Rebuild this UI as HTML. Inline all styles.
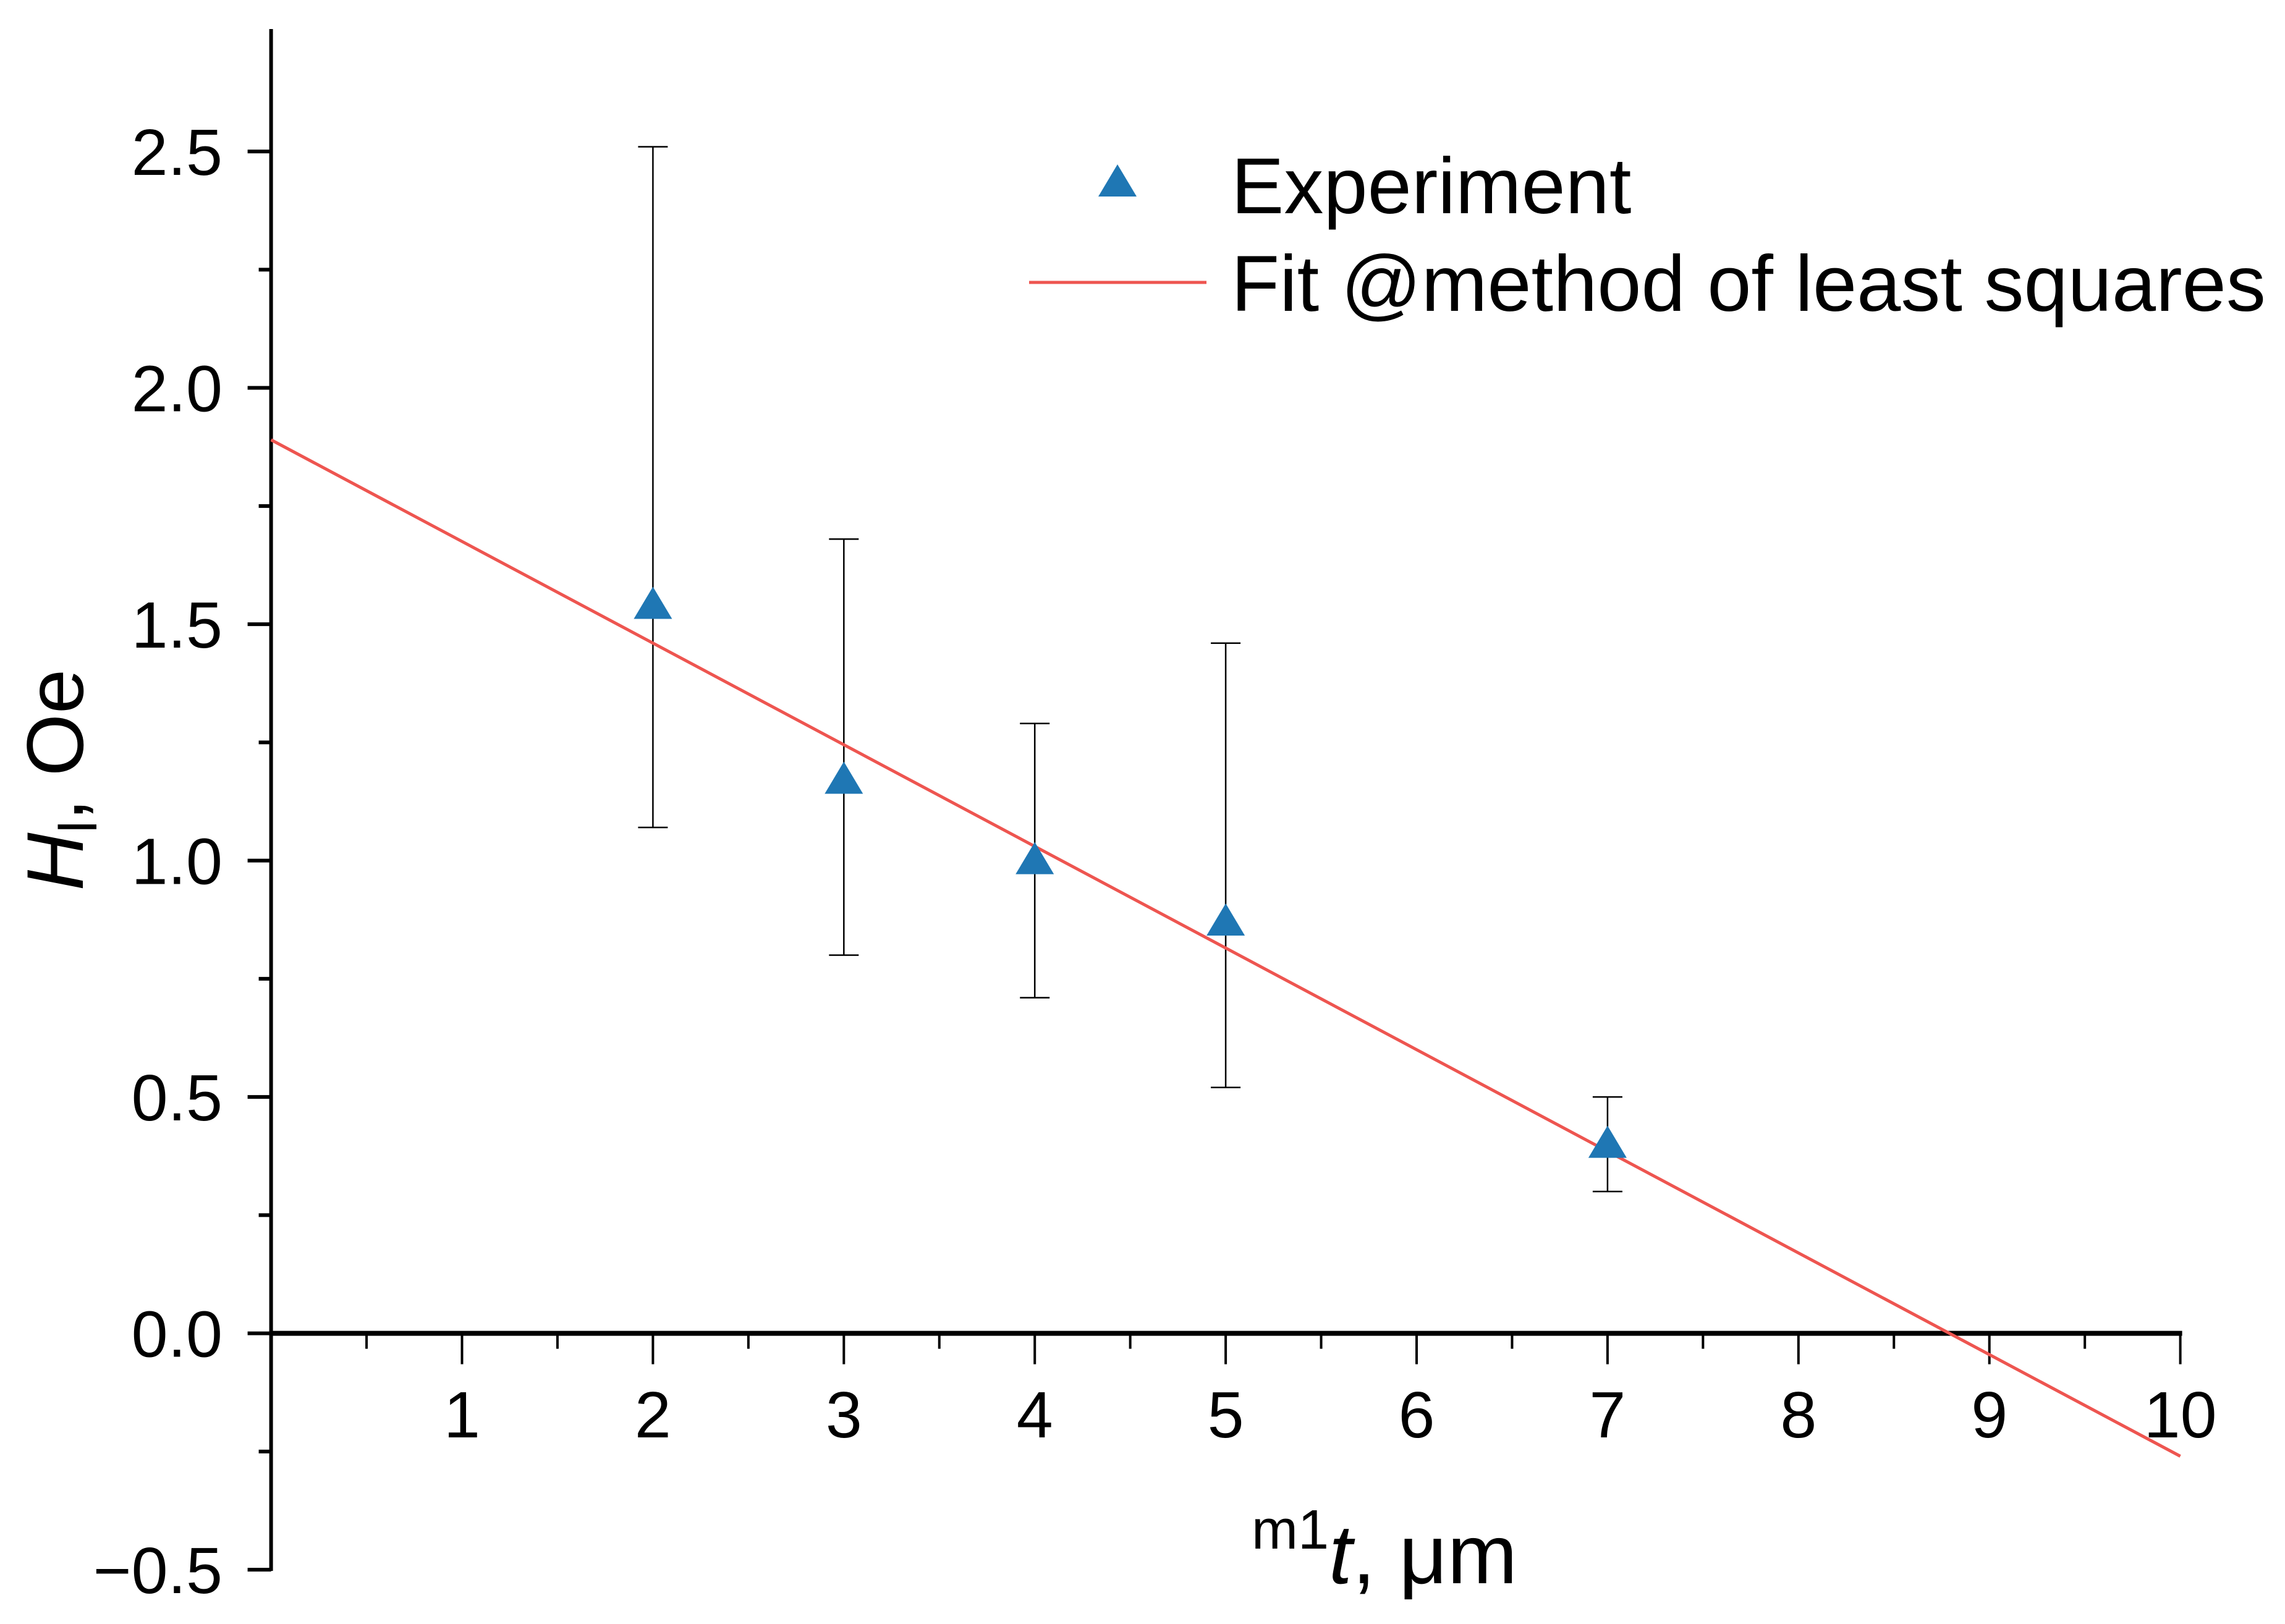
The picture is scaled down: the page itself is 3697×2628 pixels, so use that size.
<!DOCTYPE html>
<html><head><meta charset="utf-8"><style>
html,body{margin:0;padding:0;background:#fff}
svg{display:block}
text{font-family:"Liberation Sans",sans-serif;fill:#000}
</style></head><body>
<svg id="chart" width="3697" height="2628" viewBox="0 0 3697 2628" xmlns="http://www.w3.org/2000/svg">
<g id="axes"></g>
<g id="series"></g>
<g id="legend">
  <polygon points="1808,266 1839,318 1777,318" fill="#1f77b4"/>
  <text x="1992" y="345" font-size="128">Experiment</text>
  <line x1="1665" y1="457" x2="1952" y2="457" stroke="#ee5550" stroke-width="5"/>
  <text x="1992" y="503" font-size="128">Fit @method of least squares</text>
</g>
<text x="2240" y="2562" font-size="136" text-anchor="middle"><tspan font-size="90" dy="-56">m1</tspan><tspan font-style="italic" dy="56">t</tspan>, μm</text>
<text transform="translate(134,1262) rotate(-90)" font-size="130" text-anchor="middle"><tspan font-style="italic">H</tspan><tspan font-size="86" dy="22">l</tspan><tspan dy="-22">, Oe</tspan></text>
</svg>
<script>
const xVals = [2, 3, 4, 5, 7];
const yVals = [1.54, 1.17, 1.0, 0.87, 0.40];
const yLow = [1.07, 0.80, 0.71, 0.52, 0.30];
const yHigh = [2.51, 1.68, 1.29, 1.46, 0.50];
const fitX = [0, 10];
const fitY = [1.89, -0.26];
const xTicks = [1, 2, 3, 4, 5, 6, 7, 8, 9, 10];
const yTicks = [-0.5, 0.0, 0.5, 1.0, 1.5, 2.0, 2.5];
const yTickLabels = ["\u22120.5", "0.0", "0.5", "1.0", "1.5", "2.0", "2.5"];

const NS = "http://www.w3.org/2000/svg";
const X0 = 438.6, XU = 308.9, Y0 = 2157.6, YU = 765;
function sx(v){ return X0 + v * XU; }
function sy(v){ return Y0 - v * YU; }
function mk(tag, attrs, parent){
  const e = document.createElementNS(NS, tag);
  for (const k in attrs) e.setAttribute(k, attrs[k]);
  parent.appendChild(e);
  return e;
}
const axes = document.getElementById('axes');
const series = document.getElementById('series');

let el = mk('line', {x1: X0, y1: 47, x2: X0, y2: sy(-0.5) + 2, stroke: '#000', 'stroke-width': 6}, axes);


el = mk('line', {x1: X0 - 3, y1: Y0, x2: sx(10) + 3, y2: Y0, stroke: '#000', 'stroke-width': 8}, axes);



for (let i = 0; i < yTicks.length; i++) {
  const y = sy(yTicks[i]);
  el = mk('line', {x1: X0 - 38, y1: y, x2: X0, y2: y, stroke: '#000', 'stroke-width': 6}, axes);
  
  
  el = mk('text', {x: 360, y: y + 38, 'font-size': 106, 'text-anchor': 'end'}, axes);
  el.textContent = yTickLabels[i];
  
  
}
for (let v = -0.25; v < 2.7; v += 0.5) {
  const y = sy(v);
  el = mk('line', {x1: X0 - 20, y1: y, x2: X0, y2: y, stroke: '#000', 'stroke-width': 6}, axes);
  
  
}
for (let i = 0; i < xTicks.length; i++) {
  const x = sx(xTicks[i]);
  el = mk('line', {x1: x, y1: Y0, x2: x, y2: Y0 + 50, stroke: '#000', 'stroke-width': 4}, axes);
  
  
  el = mk('text', {x: x, y: 2326, 'font-size': 106, 'text-anchor': 'middle'}, axes);
  el.textContent = String(xTicks[i]);
  
  
}
for (let v = 0.5; v < 10; v += 1) {
  const x = sx(v);
  el = mk('line', {x1: x, y1: Y0, x2: x, y2: Y0 + 25, stroke: '#000', 'stroke-width': 4}, axes);
  
  
}

for (let i = 0; i < xVals.length; i++) {
  const x = sx(xVals[i]);
  el = mk('line', {x1: x, y1: sy(yLow[i]), x2: x, y2: sy(yHigh[i]), stroke: '#000', 'stroke-width': 2.5}, series);
  
  
  for (const v of [yLow[i], yHigh[i]]) {
    el = mk('line', {x1: x - 24, y1: sy(v), x2: x + 24, y2: sy(v), stroke: '#000', 'stroke-width': 2.5}, series);
    
    
  }
}
el = mk('line', {x1: sx(fitX[0]), y1: sy(fitY[0]), x2: sx(fitX[1]), y2: sy(fitY[1]), stroke: '#ee5550', 'stroke-width': 5}, series);


for (let i = 0; i < xVals.length; i++) {
  const x = sx(xVals[i]), y = sy(yVals[i]);
  el = mk('polygon', {points: `${x},${y - 30} ${x + 31},${y + 22} ${x - 31},${y + 22}`, fill: '#1f77b4'}, series);
  
  
}
</script>
</body></html>
